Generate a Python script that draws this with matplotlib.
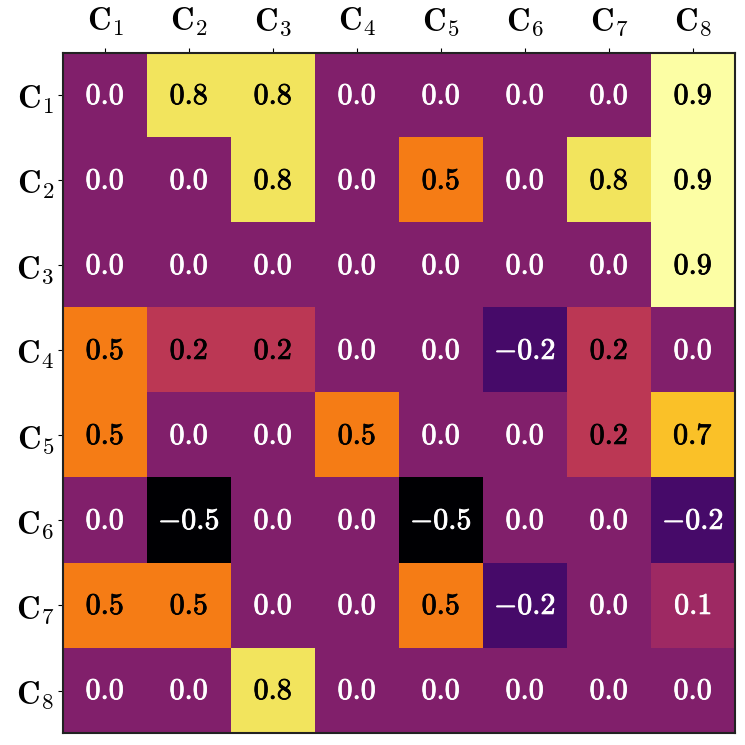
import numpy as np
import matplotlib
matplotlib.use("Agg")
import matplotlib.pyplot as plt
import matplotlib.patheffects as pe

plt.rcParams['mathtext.fontset'] = 'cm'

labels = [f"C{i}" for i in range(1, 9)]
values = np.array([
    [0.0, 0.8, 0.8, 0.0, 0.0, 0.0, 0.0, 0.9],
    [0.0, 0.0, 0.8, 0.0, 0.5, 0.0, 0.8, 0.9],
    [0.0, 0.0, 0.0, 0.0, 0.0, 0.0, 0.0, 0.9],
    [0.5, 0.2, 0.2, 0.0, 0.0, -0.2, 0.2, 0.0],
    [0.5, 0.0, 0.0, 0.5, 0.0, 0.0, 0.2, 0.7],
    [0.0, -0.5, 0.0, 0.0, -0.5, 0.0, 0.0, -0.2],
    [0.5, 0.5, 0.0, 0.0, 0.5, -0.2, 0.0, 0.1],
    [0.0, 0.0, 0.8, 0.0, 0.0, 0.0, 0.0, 0.0],
])

fig = plt.figure(figsize=(7.45, 7.45), dpi=100)
ax = fig.add_axes([0.0846, 0.0161, 0.9020, 0.9128])
ax.imshow(values, cmap='inferno', vmin=-0.5, vmax=0.9, aspect='auto')

n = len(labels)
for i in range(n):
    for j in range(n):
        v = values[i, j]
        s = f"{v:.1f}"
        color = 'black' if v >= 0.2 else 'white'
        ax.text(j, i, r'$' + s + '$', ha='center', va='center',
                color=color, fontsize=21.5,
                path_effects=[pe.Stroke(linewidth=0.6, foreground=color), pe.Normal()])

tick_labels = [r'$\mathbf{C}_{' + l[1:] + '}$' for l in labels]
ax.set_xticks(range(n))
ax.set_yticks(range(n))
ax.set_xticklabels(tick_labels, fontsize=23.5)
ax.set_yticklabels(tick_labels, fontsize=23.5)
ax.xaxis.tick_top()
ax.tick_params(axis='x', pad=7)
ax.tick_params(axis='y', pad=3)
for sp in ax.spines.values():
    sp.set_linewidth(1.5)
    sp.set_color('#222222')

fig.savefig('out.png', dpi=100)
